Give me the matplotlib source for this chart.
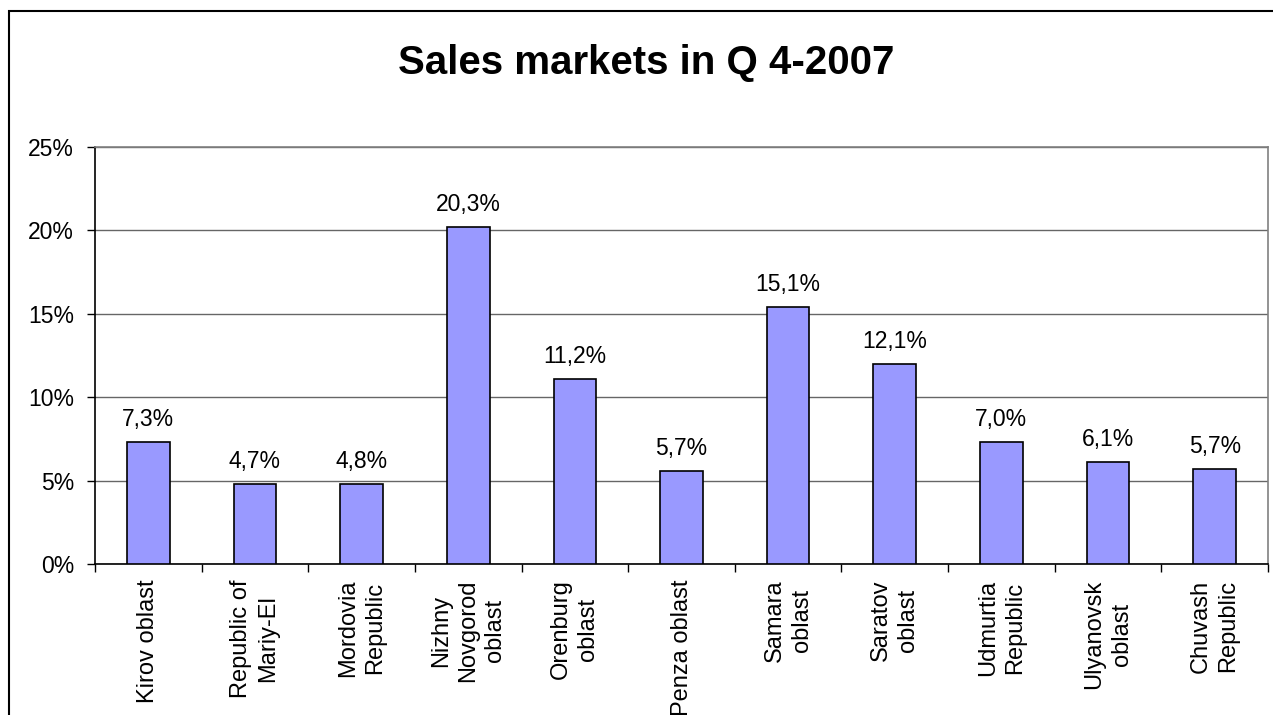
import matplotlib
matplotlib.use('Agg')
import matplotlib.pyplot as plt
from matplotlib.patches import Rectangle
from matplotlib.ticker import FixedLocator

plt.rcParams['font.family'] = ['Liberation Sans', 'DejaVu Sans']

# data
regions = [
    "Kirov oblast", "Republic of\nMariy-El", "Mordovia\nRepublic",
    "Nizhny\nNovgorod\noblast", "Orenburg\noblast", "Penza oblast",
    "Samara\noblast", "Saratov\noblast", "Udmurtia\nRepublic",
    "Ulyanovsk\noblast", "Chuvash\nRepublic",
]
bar_values = [7.3, 4.8, 4.8, 20.2, 11.1, 5.6, 15.4, 12.0, 7.3, 6.1, 5.7]
bar_labels = ["7,3%", "4,7%", "4,8%", "20,3%", "11,2%", "5,7%",
              "15,1%", "12,1%", "7,0%", "6,1%", "5,7%"]
y_ticks = [0, 5, 10, 15, 20, 25]

fig = plt.figure(figsize=(12.73, 7.15), dpi=100)
ax = fig.add_axes([0.0746, 0.2108, 0.9215, 0.5836])

x = list(range(len(regions)))
ax.bar(x, bar_values, width=0.4, color='#9999FF', edgecolor='black',
       linewidth=1.2, zorder=3)

for xi, v, lab in zip(x, bar_values, bar_labels):
    ax.annotate(lab, (xi, v), xytext=(0, 8), textcoords='offset points',
                ha='center', va='bottom', fontsize=16.5)

ax.set_xlim(-0.5, len(regions) - 0.5)
ax.set_ylim(0, 25)
ax.set_yticks(y_ticks)
ax.set_yticklabels([f"{t}%" for t in y_ticks], fontsize=16.5)
ax.tick_params(axis='y', length=6, width=1, pad=9, direction='out')

ax.set_xticks(x)
ax.set_xticklabels(regions, rotation=90, fontsize=17, va='top', ha='center',
                   multialignment='center', linespacing=1.3)
ax.tick_params(axis='x', which='major', length=0, pad=11)
ax.xaxis.set_minor_locator(FixedLocator([i - 0.5 for i in range(len(regions) + 1)]))
ax.tick_params(axis='x', which='minor', length=6, width=1, direction='out')

ax.grid(axis='y', color='#666666', linewidth=1, zorder=0)
for side in ['top', 'right']:
    ax.spines[side].set_color('#808080')
    ax.spines[side].set_linewidth(1.2)
for side in ['left', 'bottom']:
    ax.spines[side].set_color('black')
    ax.spines[side].set_linewidth(1.2)

fig.text(0.5075, 0.912, "Sales markets in Q 4-2007", ha='center', va='center',
         fontsize=29, fontweight='bold')

# outer chart frame (cropped at right and bottom in the original)
fig.patches.append(Rectangle((9 / 1273, -0.2), 1.2, 1.2 - 11 / 715,
                             transform=fig.transFigure, fill=False,
                             edgecolor='black', linewidth=1.5))

fig.savefig('out.png', dpi=100)
